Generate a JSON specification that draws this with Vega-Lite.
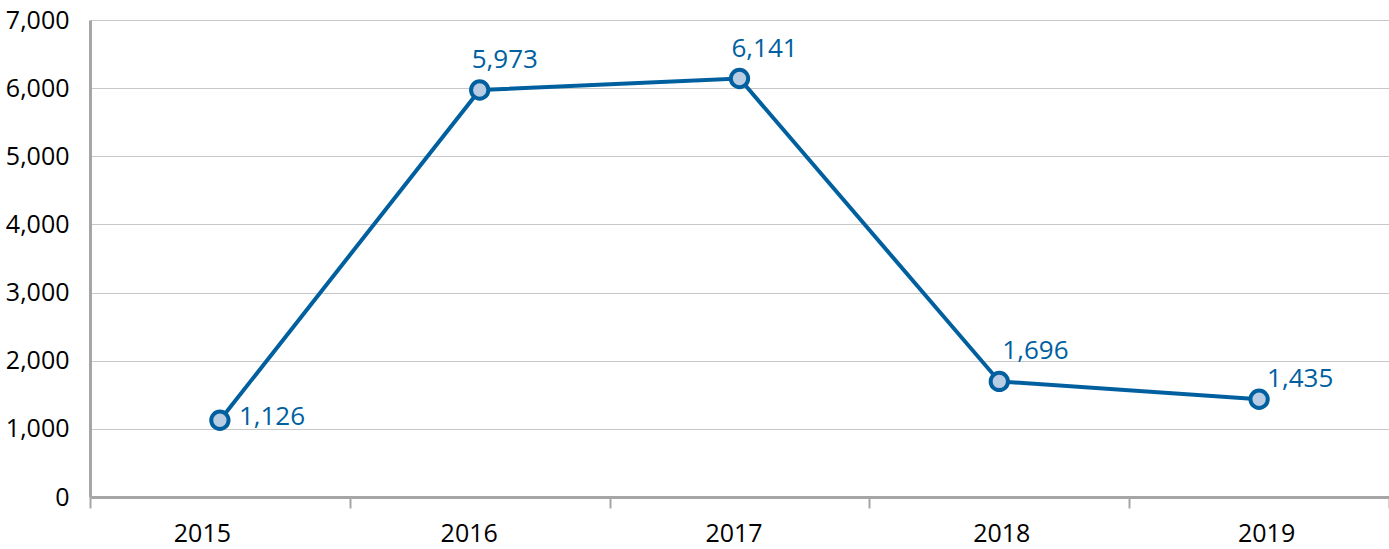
{
  "$schema": "https://vega.github.io/schema/vega-lite/v6.json",
  "autosize": "none",
  "width": 1299,
  "height": 477,
  "padding": {"left": 90, "top": 20, "right": 0, "bottom": 52},
  "background": "white",
  "config": {
    "view": {"stroke": null},
    "font": "Open Sans",
    "axis": {"labelFont": "Open Sans", "labelFontSize": 25, "labelColor": "#000000"}
  },
  "data": {
    "values": [
      {"year": "2015", "value": 1126, "label": "1,126"},
      {"year": "2016", "value": 5973, "label": "5,973"},
      {"year": "2017", "value": 6141, "label": "6,141"},
      {"year": "2018", "value": 1696, "label": "1,696"},
      {"year": "2019", "value": 1435, "label": "1,435"}
    ]
  },
  "encoding": {
    "x": {
      "field": "year",
      "type": "ordinal",
      "scale": {"paddingInner": 0, "paddingOuter": 0},
      "axis": {
        "title": null,
        "labelAngle": 0,
        "bandPosition": 0,
        "grid": false,
        "domainColor": "#a6a6a6",
        "domainWidth": 3,
        "tickColor": "#a6a6a6",
        "tickWidth": 2,
        "tickSize": 11,
        "tickBand": "extent",
        "labelPadding": 13,
        "labelOffset": {
          "condition": [
            {"test": "datum.value == '2015'", "value": -18},
            {"test": "datum.value == '2016'", "value": -11},
            {"test": "datum.value == '2017'", "value": -6},
            {"test": "datum.value == '2018'", "value": 2}
          ],
          "value": 7
        }
      }
    },
    "y": {
      "field": "value",
      "type": "quantitative",
      "scale": {"domain": [0, 7000], "nice": false},
      "axis": {
        "title": null,
        "values": [0, 1000, 2000, 3000, 4000, 5000, 6000, 7000],
        "format": ",d",
        "ticks": false,
        "domainColor": "#a6a6a6",
        "domainWidth": 3,
        "gridColor": "#c8c8c8",
        "gridWidth": 1,
        "labelPadding": 21
      }
    }
  },
  "layer": [
    {"mark": {"type": "line", "color": "#00609f", "strokeWidth": 4}},
    {"mark": {"type": "point", "filled": true, "fill": "#b8cce4", "stroke": "#00609f", "strokeWidth": 4, "size": 300, "opacity": 1}},
    {
      "transform": [{"filter": "datum.year == '2015'"}],
      "mark": {"type": "text", "align": "left", "baseline": "middle", "dx": 19, "dy": -3, "fontSize": 26, "color": "#00609f", "font": "Open Sans"},
      "encoding": {"text": {"field": "label"}}
    },
    {
      "transform": [{"filter": "datum.year == '2016' || datum.year == '2017'"}],
      "mark": {"type": "text", "align": "left", "baseline": "middle", "dx": -8, "dy": -30, "fontSize": 26, "color": "#00609f", "font": "Open Sans"},
      "encoding": {"text": {"field": "label"}}
    },
    {
      "transform": [{"filter": "datum.year == '2018'"}],
      "mark": {"type": "text", "align": "left", "baseline": "middle", "dx": 3, "dy": -30, "fontSize": 26, "color": "#00609f", "font": "Open Sans"},
      "encoding": {"text": {"field": "label"}}
    },
    {
      "transform": [{"filter": "datum.year == '2019'"}],
      "mark": {"type": "text", "align": "left", "baseline": "middle", "dx": 8, "dy": -20, "fontSize": 26, "color": "#00609f", "font": "Open Sans"},
      "encoding": {"text": {"field": "label"}}
    }
  ]
}
